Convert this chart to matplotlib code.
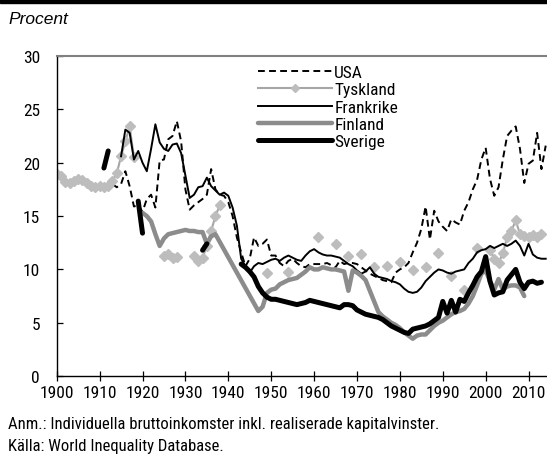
import matplotlib
matplotlib.use('Agg')
import matplotlib.pyplot as plt
import pandas as pd
from matplotlib.patches import Rectangle

plt.rcParams['font.family'] = ['Roboto Condensed', 'Liberation Sans', 'DejaVu Sans']

# data (andel av inkomsterna, procent)
usa_years = list(range(1913, 2015))
usa = [18.0, 17.7, 18.0, 19.2, 17.8, 15.9, 16.0, 15.4, 16.6, 17.0,
       15.8, 20.2, 20.3, 22.2, 22.5, 23.9, 22.0, 17.5, 15.6, 16.0,
       16.3, 16.6, 17.0, 19.4, 17.5, 17.0, 16.9, 16.3, 15.0, 13.0,
       11.6, 10.3, 11.0, 13.0, 12.2, 12.4, 12.8, 11.3, 11.3, 10.6,
       10.3, 10.8, 11.0, 10.6, 10.3, 10.2, 10.5, 10.5, 10.5, 10.5,
       10.6, 10.4, 10.2, 10.8, 10.5, 10.6, 10.6, 10.5, 10.2, 9.9,
       9.6, 9.4, 9.2, 9.0, 8.9, 8.8, 9.7, 10.0, 10.2, 10.6,
       11.6, 12.5, 13.8, 15.9, 12.8, 15.5, 14.5, 14.0, 13.6, 14.7,
       14.4, 14.2, 15.5, 16.3, 17.5, 18.4, 20.3, 21.4, 18.5, 16.9,
       17.7, 20.3, 22.5, 23.0, 23.4, 21.3, 18.1, 19.9, 20.2, 22.8,
       19.4, 21.6]

fra_years = list(range(1915, 2015))
frankrike = [20.6, 23.1, 22.8, 20.3, 21.1, 20.0, 19.2, 21.3, 23.6, 21.9,
             21.3, 21.1, 21.7, 21.8, 20.9, 18.8, 16.7, 17.0, 17.7, 17.8,
             18.6, 17.8, 17.4, 17.0, 17.2, 16.9, 15.8, 14.1, 11.0, 10.3,
             9.7, 10.3, 10.6, 10.5, 10.7, 10.9, 11.0, 10.8, 11.1, 11.3,
             11.1, 10.9, 10.8, 11.3, 11.7, 11.9, 11.6, 11.4, 11.3, 11.3,
             11.2, 11.1, 10.8, 10.5, 10.3, 9.9, 9.6, 9.8, 10.2, 9.6,
             9.3, 9.2, 9.1, 8.9, 8.8, 8.6, 8.2, 7.9, 7.8, 7.9,
             8.3, 8.9, 9.3, 9.7, 10.0, 9.9, 9.7, 9.6, 9.8, 9.9,
             10.0, 10.6, 11.0, 11.6, 11.8, 11.9, 12.2, 12.0, 12.2, 12.4,
             12.2, 12.4, 12.7, 12.2, 11.3, 12.4, 11.4, 11.1, 11.0, 11.0]

tys_years = (list(range(1900, 1919)) + [1925, 1926, 1927, 1928]
             + list(range(1932, 1939))
             + [1949, 1954, 1961, 1965, 1968, 1971, 1974, 1977, 1980, 1983,
                1986, 1989, 1992, 1995, 1998]
             + list(range(2001, 2014)))
tyskland = [18.9, 18.8, 18.2, 18.1, 18.3, 18.5, 18.4, 18.1, 17.8, 17.7,
            17.8, 17.7, 17.8, 18.3, 19.0, 20.6, 22.0, 23.4, 20.5,
            11.3, 11.4, 11.1, 11.2,
            11.3, 10.8, 11.1, 12.2, 13.6, 15.0, 16.0,
            9.7, 9.8, 13.0, 12.4, 11.3, 11.4, 10.2, 10.3, 10.7, 9.9,
            10.2, 11.5, 9.4, 8.1, 12.0,
            11.8, 11.0, 10.6, 11.5, 13.0, 13.6, 14.6, 13.3, 13.1, 13.0,
            13.2, 13.0, 13.3]

fin_years = list(range(1920, 1938)) + list(range(1947, 2010))
finland = [15.3, 15.0, 14.5, 13.3, 12.2, 12.9, 13.3, 13.4, 13.5, 13.6,
           13.7, 13.6, 13.6, 13.5, 13.5, 12.4, 13.1, 13.3,
           6.1, 6.5, 7.8, 8.1, 8.2, 8.6, 8.8, 9.0, 9.1, 9.2,
           9.5, 9.8, 10.2, 10.0, 10.0, 10.2, 10.1, 10.0, 10.0, 9.9,
           9.8, 8.0, 9.9, 9.7, 9.4, 9.0, 8.0, 7.0, 6.0, 5.6,
           5.3, 5.0, 4.8, 4.5, 4.1, 3.8, 3.5, 3.8, 3.9, 3.9,
           4.3, 4.7, 5.0, 5.2, 5.5, 5.8, 6.0, 6.1, 6.3, 6.8,
           7.5, 8.5, 9.6, 9.9, 8.9, 8.1, 9.1, 8.1, 8.4, 8.5,
           8.5, 8.3, 7.5]

sve_years = [1911, 1912, 1919, 1920, 1934, 1935] + list(range(1943, 2014))
sverige = [19.5, 21.1, 16.4, 13.4, 11.8, 12.4,
           10.5, 10.2, 9.8, 9.3, 8.4, 7.8, 7.4, 7.2, 7.2, 7.1,
           7.0, 6.9, 6.8, 6.7, 6.8, 6.9, 7.1, 7.0, 6.9, 6.8,
           6.7, 6.6, 6.5, 6.4, 6.7, 6.7, 6.6, 6.2, 6.0, 5.8,
           5.7, 5.6, 5.5, 5.3, 5.0, 4.7, 4.5, 4.3, 4.1, 4.0,
           4.4, 4.5, 4.6, 4.7, 4.9, 5.2, 5.5, 7.0, 5.9, 7.1,
           6.0, 7.2, 7.0, 7.8, 8.5, 9.3, 9.8, 11.2, 8.9, 7.6,
           7.8, 7.9, 9.0, 9.5, 10.0, 8.8, 8.2, 8.8, 8.9, 8.7,
           8.8]

# serier med luckor -> bryt linjen där år saknas
alla_ar = range(1900, 2015)
tys_s = pd.Series(tyskland, index=tys_years).reindex(alla_ar)
sve_s = pd.Series(sverige, index=sve_years).reindex(alla_ar)

fig = plt.figure(figsize=(5.47, 4.56), dpi=100)
ax = fig.add_axes([0.1037, 0.173, 0.8963, 0.702])

ax.plot(usa_years, usa, color='black', lw=1.4, ls=(0, (3.5, 2.2)), label='USA')
ax.plot(tys_s.index, tys_s.values, color='#a6a6a6', lw=1.5, marker='D', ms=5.4,
        mfc='#bdbdbd', mec='#bdbdbd', label='Tyskland')
ax.plot(fra_years, frankrike, color='black', lw=1.4, label='Frankrike')
ax.plot(fin_years, finland, color='#8c8c8c', lw=3.2, solid_capstyle='round',
        solid_joinstyle='round', label='Finland')
ax.plot(sve_s.index, sve_s.values, color='black', lw=3.6, solid_capstyle='round',
        solid_joinstyle='round', label='Sverige')

ax.set_xlim(1900, 2014.3)
ax.set_ylim(0, 30)
ax.set_xticks(range(1900, 2011, 10))
ax.set_yticks(range(0, 31, 5))
ax.tick_params(axis='x', direction='inout', length=7, width=0.9, labelsize=12.5, pad=3)
ax.tick_params(axis='y', direction='in', length=4, width=0.9, labelsize=12.5, pad=12)

ax.spines['right'].set_visible(False)
ax.spines['top'].set_color('#808080')
ax.spines['top'].set_linewidth(1.5)
ax.spines['left'].set_linewidth(1.0)
ax.spines['bottom'].set_linewidth(1.0)

leg = ax.legend(loc='upper left', bbox_to_anchor=(0.41, 0.972), frameon=False,
                fontsize=12.5, handlelength=4.25, handletextpad=0.15, labelspacing=0.12,
                borderpad=0, borderaxespad=0)
leg.get_lines()[1].set_markersize(4.5)

fig.text(0.015, 0.958, 'Procent', fontsize=12.5, style='italic',
         family=['Liberation Sans', 'DejaVu Sans'], va='center')
fig.text(0.015, 0.070, 'Anm.: Individuella bruttoinkomster inkl. realiserade kapitalvinster.',
         fontsize=12, va='center')
fig.text(0.015, 0.021, 'Källa: World Inequality Database.', fontsize=12, va='center')

# svart rubrikband överst
fig.patches.append(Rectangle((0, 1 - 4 / 456), 1, 4 / 456, transform=fig.transFigure,
                             color='black', zorder=5))

fig.savefig('out.png', dpi=100)
